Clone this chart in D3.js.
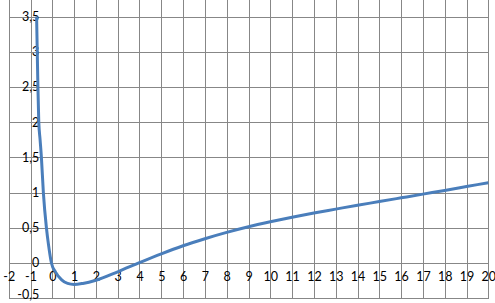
<!DOCTYPE html>
<html>
<head>
<meta charset="utf-8">
<script src="https://cdn.jsdelivr.net/npm/d3@7"></script>
<style>
  body { margin: 0; background: #fff; }
  svg { display: block; }
  text { font-family: Lato, "Liberation Sans", sans-serif; font-size: 12.5px; fill: #000; }
</style>
</head>
<body>
<div id="chart"></div>
<script>
// curve points
var xValues = [-0.72, -0.69, -0.66, -0.62, -0.56, -0.5, -0.41, -0.27, -0.17, -0.04,
  0.15, 0.43, 0.7, 1.0, 1.4, 2, 3, 4, 5, 6, 7, 8, 9, 10,
  11, 12, 13, 14, 15, 16, 17, 18, 19, 20];
var yValues = [3.5, 3.0, 2.5, 2.0, 1.75, 1.5, 1.0, 0.5, 0.25, 0,
  -0.13, -0.24, -0.29, -0.305, -0.29, -0.245, -0.125, 0.005, 0.13, 0.245, 0.345, 0.435, 0.515, 0.585,
  0.65, 0.71, 0.765, 0.82, 0.872, 0.925, 0.978, 1.03, 1.085, 1.14];

// tick labels
var xTicks = d3.range(-2, 21, 1);
var yTicks = [-0.5, 0, 0.5, 1, 1.5, 2, 2.5, 3, 3.5];

var svgWidth = 495;
var svgHeight = 303;

var svg = d3.select("#chart")
  .append("svg")
  .attr("width", svgWidth)
  .attr("height", svgHeight);

var xScale = d3.scaleLinear()
  .domain([-2, 20])
  .range([8.7, 488.3]);

var yScale = d3.scaleLinear()
  .domain([-0.5, 3.5])
  .range([298.2, 16.5]);

// grid
var grid = svg.append("g")
  .attr("stroke", "#878787")
  .attr("stroke-width", 1)
  .attr("shape-rendering", "crispEdges");

grid.selectAll(".vline")
  .data(xTicks)
  .enter()
  .append("line")
  .attr("x1", d => Math.round(xScale(d)) + 0.5)
  .attr("x2", d => Math.round(xScale(d)) + 0.5)
  .attr("y1", 0)
  .attr("y2", Math.round(yScale(-0.5)) + 0.5);

grid.selectAll(".hline")
  .data(yTicks)
  .enter()
  .append("line")
  .attr("x1", Math.round(xScale(-2)) + 0.5)
  .attr("x2", Math.round(xScale(20)) + 0.5)
  .attr("y1", d => Math.round(yScale(d)) + 0.5)
  .attr("y2", d => Math.round(yScale(d)) + 0.5);

// x labels sit below the y=0 line
var xAxis = d3.axisBottom(xScale)
  .tickValues(xTicks)
  .tickSize(0)
  .tickPadding(9)
  .tickFormat(d => String(d));

svg.append("g")
  .attr("transform", `translate(0, ${yScale(0)})`)
  .call(xAxis)
  .call(g => g.select(".domain").remove())
  .attr("font-size", null)
  .attr("font-family", null);

// y labels left of the x=0 line, comma decimals
var yAxis = d3.axisLeft(yScale)
  .tickValues(yTicks)
  .tickSize(0)
  .tickPadding(13)
  .tickFormat(d => String(d).replace(".", ","));

var yAxisG = svg.append("g")
  .attr("transform", `translate(${xScale(0)}, 0)`)
  .call(yAxis)
  .call(g => g.select(".domain").remove())
  .attr("font-size", null)
  .attr("font-family", null);

// bottom label would run off the edge, nudge it up a bit
yAxisG.selectAll(".tick")
  .filter(d => d === -0.5)
  .select("text")
  .attr("dy", "0.05em");

// series
var line = d3.line()
  .x(d => xScale(d[0]))
  .y(d => yScale(d[1]))
  .curve(d3.curveMonotoneX);

svg.append("path")
  .datum(xValues.map((x, i) => [x, yValues[i]]))
  .attr("d", line)
  .attr("fill", "none")
  .attr("stroke", "#4a7ebb")
  .attr("stroke-width", 3)
  .attr("stroke-linejoin", "round");
</script>
</body>
</html>
